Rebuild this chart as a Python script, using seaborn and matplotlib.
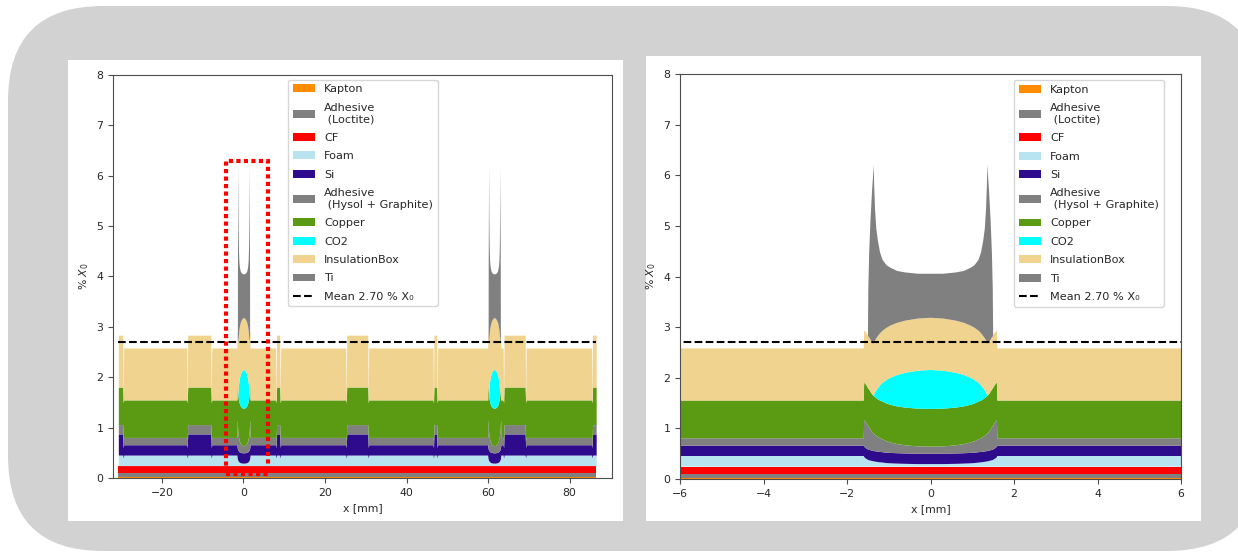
import numpy as np
import matplotlib
matplotlib.use("Agg")
import matplotlib.pyplot as plt
import seaborn as sns
from matplotlib.patches import FancyBboxPatch, Rectangle

# ---------------- data (material budget, % X0) ----------------
materials = ["Kapton", "Adhesive\n (Loctite)", "CF", "Foam", "Si",
             "Adhesive\n (Hysol + Graphite)", "Copper", "CO2", "InsulationBox", "Ti"]
colors = ["#ff8c00", "#808080", "#ff0000", "#b8e4f0", "#2d0b8c",
          "#808080", "#5b9b13", "#00ffff", "#efd38e", "#808080"]

# thickness of every layer away from pipes / overlaps
flat_x0 = [0.025, 0.075, 0.145, 0.21, 0.205, 0.145, 0.745, 0.0, 1.03, 0.0]
# sensor overlap regions (double Si, thicker glue)
overlap_si = 0.42
overlap_hysol = 0.185
# thin gaps at the module edges
gap_foam = 0.15
gap_insulation = 0.0

data_start, data_end = -30.7, 86.5
overlap_regions = [(-30.7, -29.5), (-13.8, -7.9), (8.0, 9.0), (25.2, 30.6),
                   (46.6, 47.5), (63.8, 69.2), (85.5, 86.5)]

# cooling pipe half profile (offset from pipe centre, mm)
pipe_centers = [0.0, 61.5]
pipe_halfwidth = 1.6
pipe_dx    = [0.0, 0.3, 0.6, 0.8, 0.95, 1.05, 1.15, 1.21, 1.26, 1.30, 1.33, 1.35, 1.36,
              1.40, 1.44, 1.47, 1.49, 1.50, 1.53, 1.56, 1.59]
pipe_foam  = [0.05, 0.05, 0.055, 0.06, 0.065, 0.07, 0.08, 0.085, 0.09, 0.095, 0.10, 0.10, 0.105,
              0.11, 0.12, 0.125, 0.13, 0.135, 0.15, 0.165, 0.19]
pipe_hysol = [0.14, 0.145, 0.16, 0.18, 0.205, 0.225, 0.255, 0.27, 0.29, 0.31, 0.325, 0.335, 0.34,
              0.37, 0.41, 0.45, 0.46, 0.47, 0.50, 0.52, 0.52]
pipe_co2   = [0.77, 0.75, 0.69, 0.62, 0.54, 0.47, 0.37, 0.30, 0.22, 0.15, 0.09, 0.04, 0.0,
              0.0, 0.0, 0.0, 0.0, 0.0, 0.0, 0.0, 0.0]
pipe_ti    = [0.87, 0.885, 0.95, 1.025, 1.135, 1.23, 1.40, 1.60, 1.875, 2.17, 2.61, 3.10, 3.53,
              3.0, 2.33, 1.66, 0.95, 0.0, 0.0, 0.0, 0.0]

mean_x0 = 2.70

# ---------------- build profile ----------------
def layer_values(kind, i=None):
    v = list(flat_x0)
    if kind == "overlap":
        v[4] = overlap_si
        v[5] = overlap_hysol
    elif kind == "gap":
        v[3] = gap_foam
        v[8] = gap_insulation
    elif kind == "pipe":
        v[3] = pipe_foam[i]
        v[5] = pipe_hysol[i]
        v[7] = pipe_co2[i]
        v[9] = pipe_ti[i]
    return v

eps = 0.12
pts = []
for c in pipe_centers:
    pts.append((c - pipe_halfwidth, "flat", None))
    pts.append((c + pipe_halfwidth, "flat", None))
    for i, d in enumerate(pipe_dx):
        pts.append((c - d, "pipe", i))
        if d > 0:
            pts.append((c + d, "pipe", i))
for a, b in overlap_regions:
    if a <= data_start:
        pts.append((a, "overlap", None))
    else:
        pts += [(a - eps, "flat", None), (a, "gap", None), (a + eps, "overlap", None)]
    if b >= data_end:
        pts.append((b, "overlap", None))
    else:
        pts += [(b - eps, "overlap", None), (b, "gap", None), (b + eps, "flat", None)]
pts.sort(key=lambda p: p[0])
x = np.array([p[0] for p in pts])
Y = np.array([layer_values(p[1], p[2]) for p in pts]).T

# ---------------- style ----------------
sns.set_style("ticks")
plt.rcParams.update({
    "font.family": ["DejaVu Sans"],
    "font.size": 7.8,
    "axes.edgecolor": "0.3",
    "axes.linewidth": 0.8,
    "axes.labelcolor": "0.15",
    "xtick.color": "0.3",
    "ytick.color": "0.3",
    "xtick.labelcolor": "0.15",
    "ytick.labelcolor": "0.15",
    "xtick.major.size": 3.5,
    "ytick.major.size": 3.5,
    "xtick.major.width": 0.8,
    "ytick.major.width": 0.8,
    "xtick.labelsize": 7.8,
    "ytick.labelsize": 7.8,
    "axes.labelsize": 7.8,
    "legend.fontsize": 8.1,
})

fig = plt.figure(figsize=(12.38, 5.52), dpi=100)
fig.patch.set_facecolor("white")
fig.add_artist(FancyBboxPatch((0.08, 0.01), 12.54, 5.45,
                              boxstyle="round,pad=0,rounding_size=0.95",
                              transform=fig.dpi_scale_trans,
                              fc="#d2d2d2", ec="none", zorder=-3))
fig.add_artist(Rectangle((0.68, 0.31), 5.55, 4.61, transform=fig.dpi_scale_trans,
                         fc="white", ec="none", zorder=-2))
fig.add_artist(Rectangle((6.46, 0.31), 5.55, 4.65, transform=fig.dpi_scale_trans,
                         fc="white", ec="none", zorder=-2))

ax1 = fig.add_axes([0.0913, 0.1341, 0.4031, 0.7301])
ax2 = fig.add_axes([0.5493, 0.1322, 0.4047, 0.7337])

mean_label = "Mean 2.70 % X\u2080"
for ax in (ax1, ax2):
    ax.stackplot(x, Y, colors=colors, labels=materials, linewidth=0)
    sns.lineplot(x=[x.min(), x.max()], y=[mean_x0, mean_x0], ax=ax,
                 color="black", linestyle="--", linewidth=1.5, label=mean_label)
    ax.set_ylim(0, 8)
    ax.set_xlabel("x [mm]")
    ax.set_ylabel("% $X_0$")
    ax.set_facecolor("white")

ax1.set_xlim(-32.0, 90.4)
ax1.set_xticks([-20, 0, 20, 40, 60, 80])
ax2.set_xlim(-6, 6)
ax2.set_xticks([-6, -4, -2, 0, 2, 4, 6])

ax1.add_patch(Rectangle((-4.4, 0.08), 10.35, 6.22, fill=False, ec="red",
                        lw=3, linestyle=(0, (1, 0.8)), zorder=5))

leg_kw = dict(loc="upper left", borderaxespad=0, frameon=True, edgecolor="0.8",
              framealpha=0.8, labelspacing=0.75)
ax1.legend(bbox_to_anchor=(0.351, 0.988), **leg_kw)
ax2.legend(bbox_to_anchor=(0.667, 0.985), **leg_kw)

fig.savefig("out.png", dpi=100)
